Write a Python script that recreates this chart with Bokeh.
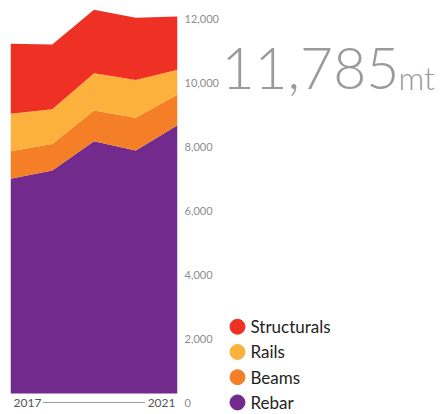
from bokeh.plotting import figure
from bokeh.layouts import row
from bokeh.models import (ColumnDataSource, LinearAxis, Range1d, FixedTicker, Label,
                          NumeralTickFormatter)
from bokeh.core.properties import value
from bokeh.embed import file_html
from bokeh.resources import INLINE

years = [2017, 2018, 2019, 2020, 2021]
rebar = [6710, 6970, 7885, 7595, 8385]
beams = [860, 830, 960, 1020, 960]
rails = [1170, 1085, 1165, 1185, 770]
structurals = [2190, 2020, 1980, 1940, 1670]
series_names = ["Rebar", "Beams", "Rails", "Structurals"]
colors = ["#722B8D", "#F47F26", "#FBB13B", "#EE3124"]
y_ticks = [0, 2000, 4000, 6000, 8000, 10000, 12000]
headline = "11,785"
unit = "mt"

FONT = "Lato"
PX_PER_UNIT = 0.032
y_lo = -21 / PX_PER_UNIT
y_hi = 392 / PX_PER_UNIT
label_shift = 9 / PX_PER_UNIT

source = ColumnDataSource(dict(years=years, Rebar=rebar, Beams=beams,
                               Rails=rails, Structurals=structurals))

# ---- chart ----
p = figure(width=221, height=414, x_range=Range1d(years[0], years[-1]),
           y_range=Range1d(y_lo, y_hi),
           min_border_left=10, min_border_right=41, min_border_top=1, min_border_bottom=0,
           x_axis_location=None, y_axis_location=None, toolbar_location=None,
           output_backend="svg", outline_line_color=None, background_fill_color="white",
           border_fill_color="white")
p.xgrid.visible = False
p.ygrid.visible = False

areas = p.varea_stack(series_names, x="years", color=colors, source=source)

# right value axis (labels sit slightly below their value)
p.extra_y_ranges = {"lab": Range1d(y_lo + label_shift, y_hi + label_shift)}
axis = LinearAxis(y_range_name="lab", ticker=FixedTicker(ticks=y_ticks),
                  formatter=NumeralTickFormatter(format="0,0"),
                  axis_line_color=None, major_tick_line_color=None, minor_tick_line_color=None,
                  major_tick_out=0, major_tick_in=0, minor_tick_out=0, minor_tick_in=0,
                  major_label_standoff=7, major_label_text_font=FONT,
                  major_label_text_font_size="11px", major_label_text_color="#8c8c8c")
p.add_layout(axis, "right")

# year labels below
yr_y = -9 / PX_PER_UNIT
p.text(x=[years[0]], y=[yr_y], text=[str(years[0])], text_align="left", text_baseline="middle",
       x_offset=3, text_font=value(FONT), text_font_size="12px", text_color="#555555")
p.text(x=[years[-1]], y=[yr_y], text=[str(years[-1])], text_align="right", text_baseline="middle",
       x_offset=-2, text_font=value(FONT), text_font_size="12px", text_color="#555555")
p.segment(x0=[years[0] + 0.78], x1=[years[-1] - 0.78], y0=[yr_y], y1=[yr_y],
          line_color="#999999", line_width=1)

# ---- headline + legend panel (ranges in pixels of this panel) ----
W2, H2 = 223, 414
q = figure(width=W2, height=H2, x_range=Range1d(0, W2), y_range=Range1d(0, H2),
           min_border=0, x_axis_location=None, y_axis_location=None, toolbar_location=None,
           output_backend="svg", outline_line_color=None, background_fill_color="white",
           border_fill_color="white")
q.xgrid.visible = False
q.ygrid.visible = False

q.add_layout(Label(x=0, y=346, x_units="screen", y_units="screen", text=headline,
                   text_font="Lato Light", text_font_size="57px", text_color="#9a9a9a",
                   text_baseline="alphabetic"))
q.add_layout(Label(x=177, y=337, x_units="screen", y_units="screen", text=unit,
                   text_font="Lato Light", text_font_size="32px", text_color="#9a9a9a",
                   text_baseline="alphabetic"))

leg_names = list(reversed(series_names))
leg_colors = list(reversed(colors))
leg_top, leg_pitch = 326, 25.3
leg_y = [H2 - (leg_top + i * leg_pitch) for i in range(len(leg_names))]
q.scatter(x=[16] * len(leg_names), y=leg_y, marker="circle", size=15,
          fill_color=leg_colors, line_color=leg_colors)
q.text(x=[29] * len(leg_names), y=leg_y, text=leg_names, text_baseline="middle",
       text_align="left", text_font=value(FONT), text_font_size="17px", text_color="#231f20")

layout = row(p, q, spacing=0)
open("out.html", "w").write(file_html(layout, INLINE))
